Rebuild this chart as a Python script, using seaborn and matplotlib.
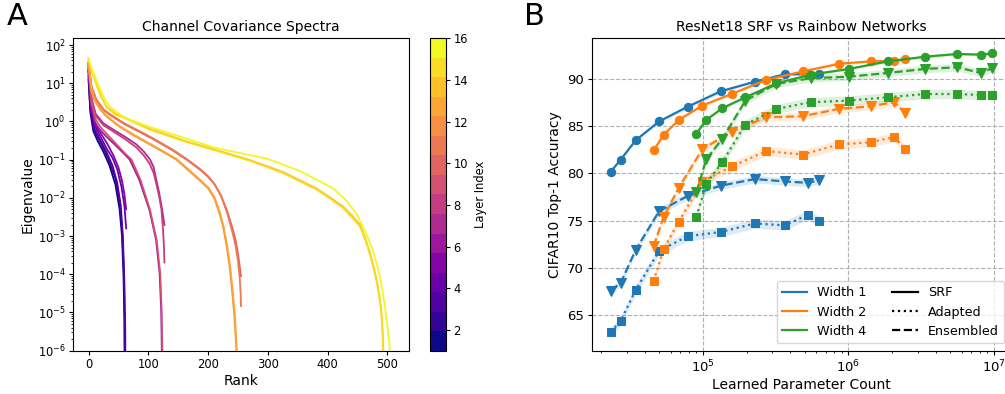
import numpy as np
import pandas as pd
import matplotlib
matplotlib.use("Agg")
import matplotlib.pyplot as plt
import seaborn as sns
from matplotlib.lines import Line2D
from matplotlib.colors import Normalize
from matplotlib.cm import ScalarMappable

# ---------------- Panel A: channel covariance spectra (rank, log10 eigenvalue) ----------------
L01_rank = [0, 3, 8, 15, 25, 35, 45, 52, 56, 58.5, 60, 61]
L01_log = [1.1, 0.25, -0.25, -0.5, -0.8, -1.15, -1.65, -2.3, -3.0, -4.0, -5.2, -8]
L02_rank = [0, 3, 8, 15, 25, 35, 45, 52, 56, 59, 60.5, 61.5]
L02_log = [1.2, 0.35, -0.15, -0.4, -0.7, -1.05, -1.5, -2.1, -2.8, -3.9, -5.2, -8]
L03_rank = [0, 4, 10, 20, 30, 40, 48, 54, 57.5, 60, 61.5, 62]
L03_log = [1.3, 0.3, -0.2, -0.5, -0.8, -1.15, -1.6, -2.2, -3.0, -4.2, -5.5, -8]
L04_rank = [0, 4, 10, 20, 30, 40, 48, 55, 60, 63]
L04_log = [1.35, 0.35, -0.1, -0.4, -0.7, -0.95, -1.25, -1.7, -2.2, -2.8]
L05_rank = [0, 5, 12, 22, 32, 42, 50, 56, 60, 63]
L05_log = [1.4, 0.3, -0.1, -0.35, -0.6, -0.9, -1.2, -1.55, -1.9, -2.3]
L06_rank = [0, 5, 10, 18, 30, 45, 58, 69, 85, 102, 113, 119, 121.7, 122.6, 123]
L06_log = [1.35, 0.4, 0.0, -0.2, -0.4, -0.62, -0.82, -1.0, -1.53, -2.32, -3.1, -3.98, -5.0, -6.0, -8]
L07_rank = [0, 6, 12, 25, 40, 63, 80, 92, 103, 109, 113, 118, 122, 125, 127]
L07_log = [1.5, 0.55, 0.2, -0.05, -0.2, -0.42, -0.6, -0.78, -1.0, -1.2, -1.5, -1.85, -2.2, -2.5, -2.71]
L08_rank = [0, 6, 12, 25, 40, 63, 80, 92, 102, 109, 113, 118, 122, 124.5, 126, 127]
L08_log = [1.5, 0.5, 0.15, -0.1, -0.25, -0.48, -0.68, -0.88, -1.1, -1.35, -1.6, -1.95, -2.3, -2.8, -3.2, -3.69]
L09_rank = [0, 5, 12, 20, 35, 50, 62, 72, 87, 103, 114, 120, 122.5, 123.5, 124]
L09_log = [1.45, 0.5, 0.05, -0.15, -0.4, -0.65, -0.85, -1.0, -1.53, -2.32, -3.1, -3.98, -5.0, -6.0, -8]
L10_rank = [0, 5, 13, 25, 35, 60, 85, 110, 140, 164, 188, 200, 211, 222, 232, 240, 246, 250, 253, 255]
L10_log = [1.55, 0.9, 0.56, 0.3, 0.18, -0.07, -0.27, -0.48, -0.75, -1.0, -1.28, -1.45, -1.65, -1.95, -2.35, -2.75, -3.1, -3.45, -3.8, -4.05]
L11_rank = [0, 5, 13, 25, 35, 60, 85, 110, 140, 164, 188, 200, 211, 222, 232, 240, 246, 250, 253, 254.5, 255]
L11_log = [1.55, 0.92, 0.58, 0.32, 0.2, -0.05, -0.25, -0.46, -0.73, -0.98, -1.26, -1.43, -1.64, -1.96, -2.4, -2.85, -3.25, -3.65, -4.1, -4.5, -4.83]
L12_rank = [0, 5, 10, 20, 30, 50, 74, 100, 125, 147, 165, 183, 200, 210, 218, 225, 231, 236, 240, 244, 247.5, 248]
L12_log = [1.5, 0.8, 0.55, 0.3, 0.13, -0.12, -0.35, -0.58, -0.8, -1.0, -1.25, -1.5, -1.75, -2.0, -2.35, -2.75, -3.25, -3.8, -4.4, -5.1, -6.0, -8]
L13_rank = [0, 5, 10, 20, 30, 50, 74, 100, 125, 148, 166, 184, 201, 211, 219, 226, 232, 237, 241, 245, 248, 248.5]
L13_log = [1.52, 0.82, 0.57, 0.32, 0.15, -0.1, -0.33, -0.56, -0.78, -0.99, -1.24, -1.49, -1.74, -1.99, -2.34, -2.75, -3.25, -3.8, -4.4, -5.1, -6.0, -8]
L14_rank = [0, 5, 13, 20, 30, 45, 63, 100, 158, 214, 270, 325, 381, 405, 426, 440, 454, 463, 471, 477, 482, 487, 490, 492, 493.5, 494]
L14_log = [1.65, 1.35, 1.0, 0.7, 0.39, 0.2, 0.09, -0.18, -0.49, -0.75, -1.01, -1.32, -1.75, -2.0, -2.23, -2.45, -2.7, -3.05, -3.45, -3.8, -4.15, -4.6, -5.0, -5.5, -6.1, -8]
L15_rank = [0, 5, 13, 20, 30, 45, 63, 100, 158, 214, 270, 325, 381, 405, 426, 440, 454, 463, 471, 477, 482, 487, 490, 492, 493, 493.5]
L15_log = [1.62, 1.33, 0.98, 0.68, 0.37, 0.18, 0.07, -0.2, -0.51, -0.77, -1.03, -1.35, -1.78, -2.03, -2.27, -2.5, -2.75, -3.1, -3.5, -3.85, -4.2, -4.65, -5.05, -5.55, -6.1, -8]
L16_rank = [0, 5, 15.6, 25, 35, 60, 100, 214, 298, 354, 376, 409, 430, 448, 465, 475, 482, 488, 493, 498, 502, 504, 505]
L16_log = [1.65, 1.4, 1.0, 0.65, 0.39, 0.1, -0.13, -0.7, -0.97, -1.3, -1.48, -1.75, -2.05, -2.41, -2.95, -3.35, -3.72, -4.1, -4.55, -5.1, -5.6, -6.0, -8]

layer_index = list(range(1, 17))
spectra_rank = [L01_rank, L02_rank, L03_rank, L04_rank, L05_rank, L06_rank, L07_rank, L08_rank,
                L09_rank, L10_rank, L11_rank, L12_rank, L13_rank, L14_rank, L15_rank, L16_rank]
spectra_log = [L01_log, L02_log, L03_log, L04_log, L05_log, L06_log, L07_log, L08_log,
               L09_log, L10_log, L11_log, L12_log, L13_log, L14_log, L15_log, L16_log]
cbar_ticks = [2, 4, 6, 8, 10, 12, 14, 16]

# ---------------- Panel B: ResNet18 SRF vs Rainbow ----------------
w1_params = [2.33e4, 2.72e4, 3.45e4, 5.0e4, 7.84e4, 1.33e5, 2.27e5, 3.66e5, 5.24e5, 6.24e5]
w1_srf = [80.2, 81.45, 83.5, 85.5, 87.05, 88.7, 89.7, 90.5, 90.5, 90.5]
w1_adapted = [63.2, 64.4, 67.65, 71.8, 73.35, 73.8, 74.7, 74.5, 75.6, 75.0]
w1_ensembled = [67.6, 68.4, 71.9, 76.0, 77.6, 78.7, 79.4, 79.15, 79.0, 79.25]

w2_params = [4.58e4, 5.37e4, 6.84e4, 9.91e4, 1.58e5, 2.73e5, 4.87e5, 8.6e5, 1.42e6, 2.06e6, 2.46e6]
w2_srf = [82.43, 84.08, 85.67, 87.18, 88.42, 89.9, 90.8, 91.6, 91.86, 91.9, 92.07]
w2_adapted = [68.6, 72.0, 74.9, 79.15, 80.74, 82.36, 82.0, 83.06, 83.3, 83.84, 82.6]
w2_ensembled = [72.3, 75.4, 78.5, 82.55, 84.43, 85.95, 86.05, 86.83, 87.1, 87.55, 86.4]

w4_params = [9.02e4, 1.055e5, 1.36e5, 1.96e5, 3.2e5, 5.5e5, 1.01e6, 1.87e6, 3.36e6, 5.6e6, 8.15e6, 9.75e6]
w4_srf = [84.19, 85.67, 86.9, 88.06, 89.53, 90.45, 91.06, 91.86, 92.35, 92.64, 92.57, 92.7]
w4_adapted = [75.4, 78.9, 81.2, 85.17, 86.83, 87.53, 87.71, 88.06, 88.4, 88.4, 88.3, 88.34]
w4_ensembled = [78.0, 81.5, 83.66, 87.7, 89.47, 90.07, 90.24, 90.63, 91.06, 91.23, 90.63, 91.16]

# half-width of the shaded uncertainty band for each method
band_srf = 0.15
band_adapted = 0.5
band_ensembled = 0.4

width_labels = ["Width 1", "Width 2", "Width 4"]
method_labels = ["SRF", "Adapted", "Ensembled"]
width_colors = ["#1f77b4", "#ff7f0e", "#2ca02c"]

# ---------------- figure ----------------
plt.rcParams["font.family"] = ["DejaVu Sans"]
plt.rcParams["font.size"] = 10

fig = plt.figure(figsize=(10.05, 3.94), dpi=100)
axA = fig.add_axes([0.0729, 0.1099, 0.3343, 0.7929])
cax = fig.add_axes([0.4279, 0.1099, 0.0156, 0.7929])
axB = fig.add_axes([0.5888, 0.1091, 0.4175, 0.7937])

# Panel A
cmap = plt.get_cmap("plasma", 16)
norm = Normalize(vmin=1, vmax=16)
axA.set_yscale("log")
for lid, rk, lg in zip(layer_index, spectra_rank, spectra_log):
    sns.lineplot(x=np.array(rk), y=10.0 ** np.array(lg), ax=axA, color=cmap(norm(lid)),
                 lw=1.3, sort=False, estimator=None)
axA.set_xlim(-25.5, 536.5)
axA.set_ylim(1e-6, 150)
axA.set_xticks([0, 100, 200, 300, 400, 500])
axA.set_yticks([10.0 ** k for k in range(-6, 3)])
axA.tick_params(labelsize=8.3, length=3, pad=2.5)
axA.tick_params(which="minor", length=1.7)
axA.set_xlabel("Rank", fontsize=10, labelpad=2)
axA.set_ylabel("Eigenvalue", fontsize=10, labelpad=2)
axA.set_title("Channel Covariance Spectra", fontsize=10, pad=5)
cb = fig.colorbar(ScalarMappable(norm=norm, cmap=cmap), cax=cax, ticks=cbar_ticks)
cb.ax.tick_params(labelsize=8.3, length=3, pad=2.5)
cb.set_label("Layer Index", fontsize=8.3)

# Panel B
axB.set_xscale("log")
series = [
    (w1_params, [w1_srf, w1_adapted, w1_ensembled]),
    (w2_params, [w2_srf, w2_adapted, w2_ensembled]),
    (w4_params, [w4_srf, w4_adapted, w4_ensembled]),
]
styles = {"SRF": ("-", "o", band_srf, 6), "Adapted": (":", "s", band_adapted, 6.3),
          "Ensembled": ("--", "v", band_ensembled, 6.5)}
for (params, vals), col in zip(series, width_colors):
    for meth, v in zip(method_labels, vals):
        ls, mk, bw, ms = styles[meth]
        v = np.array(v)
        axB.fill_between(params, v - bw, v + bw, color=col, alpha=0.15, lw=0)
        sns.lineplot(x=params, y=v, ax=axB, color=col, linestyle=ls, marker=mk,
                     markersize=ms, markeredgecolor=col,
                     lw=1.6, sort=False, estimator=None)
axB.set_xlim(10 ** 4.236, 10 ** 7.12)
axB.set_ylim(61.2, 94.3)
axB.set_yticks([65, 70, 75, 80, 85, 90])
axB.tick_params(labelsize=9.5, length=3, pad=2.5)
axB.tick_params(which="minor", length=1.7)
axB.grid(True, which="major", ls="--", color="#b0b0b0", lw=0.8)
axB.set_axisbelow(True)
axB.set_xlabel("Learned Parameter Count", fontsize=10, labelpad=2)
axB.set_ylabel("CIFAR10 Top-1 Accuracy", fontsize=10, labelpad=4)
axB.set_title("ResNet18 SRF vs Rainbow Networks", fontsize=10, pad=5)

handles = []
labels = []
for lab, col in zip(width_labels, width_colors):
    handles.append(Line2D([], [], color=col, lw=1.6))
    labels.append(lab)
for lab in method_labels:
    handles.append(Line2D([], [], color="black", lw=1.6, ls=styles[lab][0]))
    labels.append(lab)
axB.legend(handles, labels, ncol=2, loc="lower right", fontsize=9.2,
           bbox_to_anchor=(0.998, 0.005))

fig.text(0.007, 0.995, "A", fontsize=22, va="top", ha="left")
fig.text(0.521, 0.995, "B", fontsize=22, va="top", ha="left")

fig.savefig("out.png", dpi=100)
